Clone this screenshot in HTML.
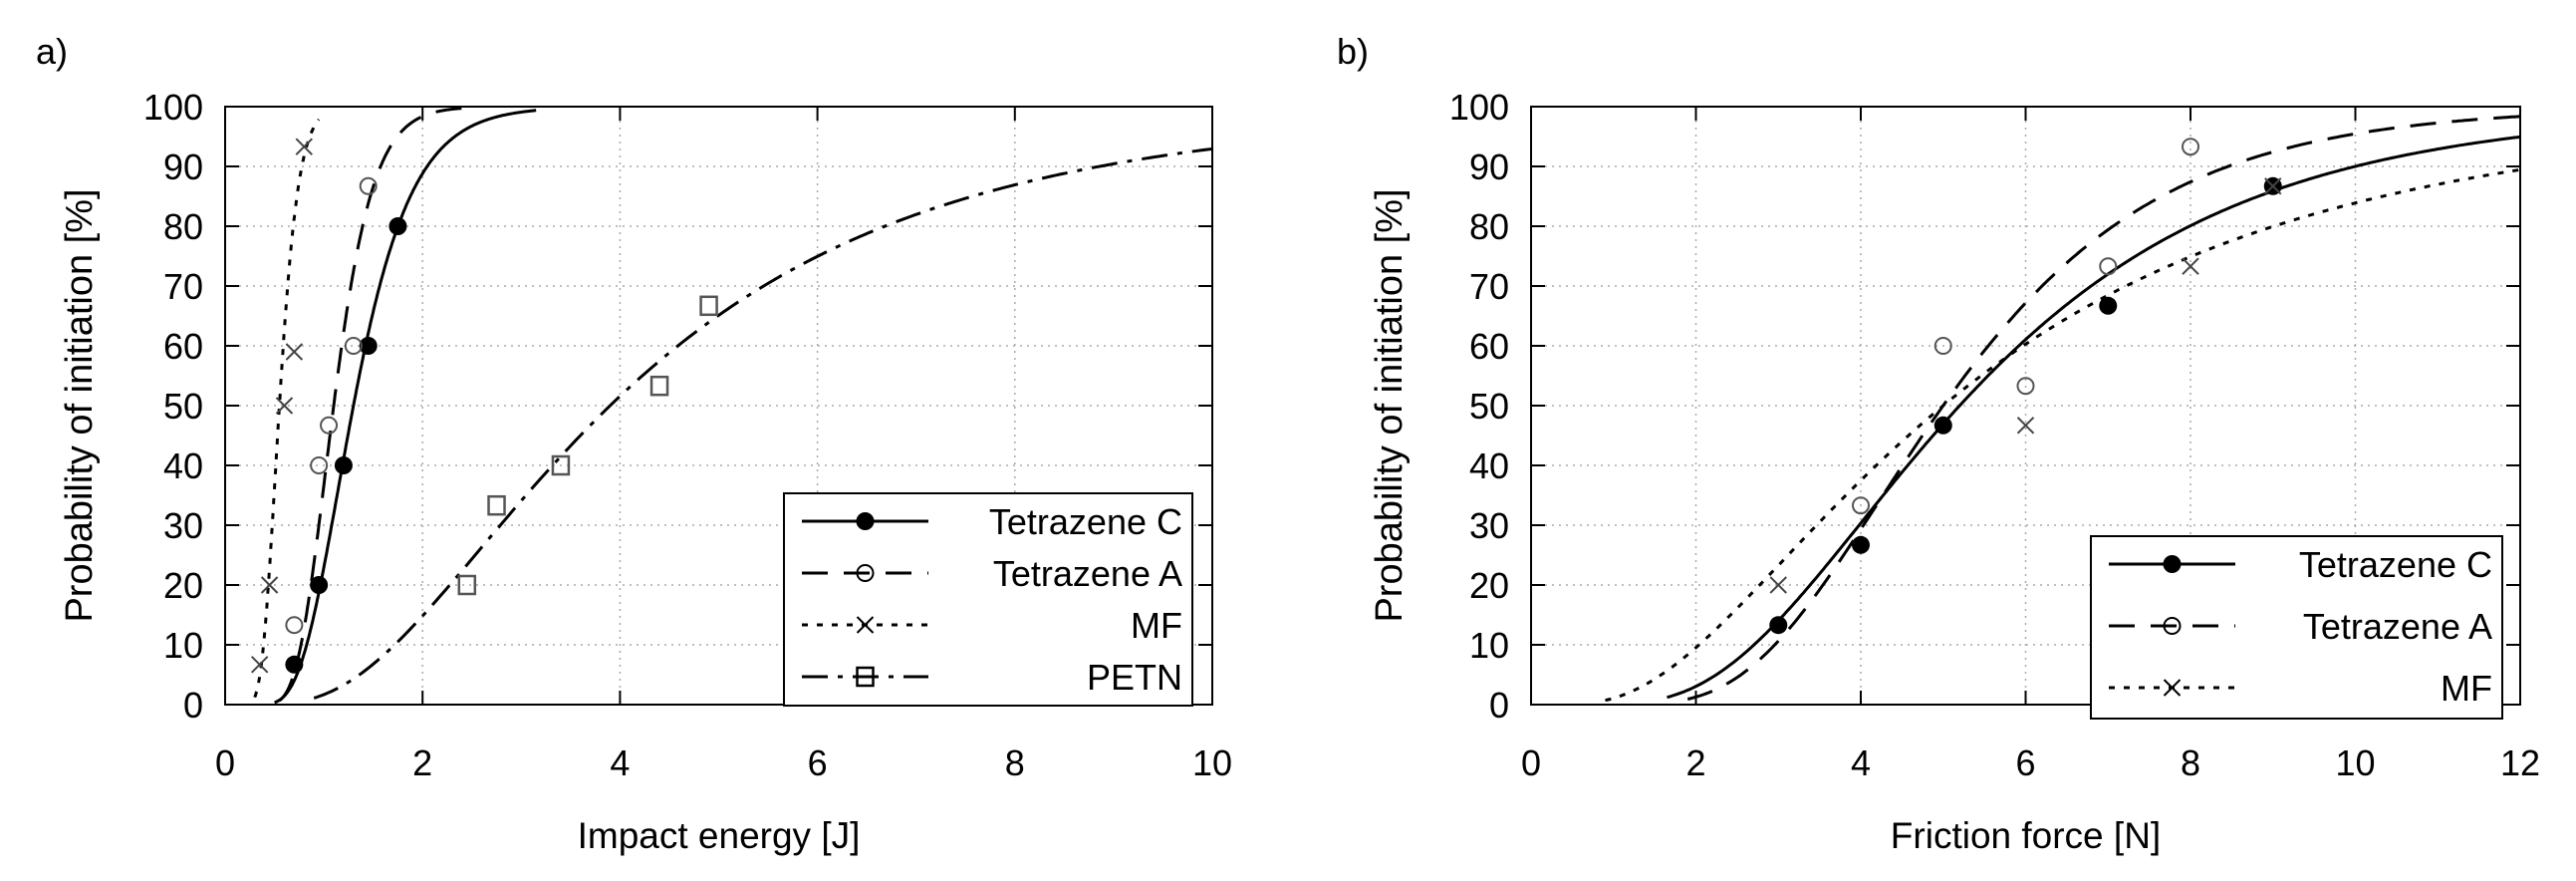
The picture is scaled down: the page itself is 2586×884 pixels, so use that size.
<!DOCTYPE html>
<html><head><meta charset="utf-8"><style>
html,body{margin:0;padding:0;background:#fff;}
svg{display:block;font-family:"Liberation Sans",sans-serif;}
</style></head><body>
<svg id="fig" width="2586" height="884" viewBox="0 0 2586 884" xmlns="http://www.w3.org/2000/svg"></svg>
<script>
// ---- Chart a) data ----
const aXTicks = [0, 2, 4, 6, 8, 10];
const yTicks = [0, 10, 20, 30, 40, 50, 60, 70, 80, 90, 100];
const aSeriesNames = ["Tetrazene C", "Tetrazene A", "MF", "PETN"];
const aTetCx = [0.7, 0.95, 1.2, 1.45, 1.75];
const aTetCy = [6.7, 20, 40, 60, 80];
const aTetAx = [0.7, 0.95, 1.05, 1.3, 1.45];
const aTetAy = [13.3, 40, 46.7, 60, 86.7];
const aMFx = [0.35, 0.45, 0.6, 0.7, 0.8];
const aMFy = [6.7, 20, 50, 59, 93.3];
const aPETNx = [2.45, 2.75, 3.4, 4.4, 4.9];
const aPETNy = [20, 33.3, 40, 53.3, 66.7];
// fitted lognormal curves: [median, sigma, xStart, xEnd]
const aFitC = [1.3, 0.354, 0.5, 3.15];
const aFitA = [1.1, 0.28, 0.55, 2.5];
const aFitMF = [0.55, 0.27, 0.3, 0.95];
const aFitPETN = [3.9, 0.64, 0.9, 10];
// ---- Chart b) data ----
const bXTicks = [0, 2, 4, 6, 8, 10, 12];
const bSeriesNames = ["Tetrazene C", "Tetrazene A", "MF"];
const bTetCx = [3, 4, 5, 7, 9];
const bTetCy = [13.3, 26.7, 46.7, 66.7, 86.7];
const bTetAx = [4, 5, 6, 7, 8];
const bTetAy = [33.3, 60, 53.3, 73.3, 93.3];
const bMFx = [3, 6, 8, 9];
const bMFy = [20, 46.7, 73.3, 86.7];
const bFitC = [5.2, 0.51, 1.65, 12];
const bFitA = [5.0, 0.41, 1.9, 12];
const bFitMF = [5.0, 0.7, 0.9, 12];

const NS = "http://www.w3.org/2000/svg";
const svg = document.getElementById("fig");
function mk(tag, attrs, parent){ const e=document.createElementNS(NS,tag); for(const k in attrs) e.setAttribute(k,attrs[k]); (parent||svg).appendChild(e); return e; }
function erf(x){ const s=x<0?-1:1; x=Math.abs(x); const t=1/(1+0.3275911*x);
  const y=1-(((((1.061405429*t-1.453152027)*t)+1.421413741)*t-0.284496736)*t+0.254829592)*t*Math.exp(-x*x); return s*y; }
function cdf(x,m,s){ return 0.5*(1+erf(Math.log(x/m)/(s*Math.SQRT2)))*100; }

const styles = {
  C:{dash:""},
  A:{dash:"26 16"},
  MF:{dash:"6 9"},
  PETN:{dash:"26 10 5 10"}
};
function marker(g, kind, cx, cy){
  let e;
  if(kind==="C"){ e=mk("circle",{cx,cy,r:9,fill:"#000"},g); }
  else if(kind==="A"){ e=mk("circle",{cx,cy,r:8,fill:"none",stroke:"#555","stroke-width":2},g); }
  else if(kind==="MF"){ e=mk("path",{d:`M${cx-8},${cy-8}L${cx+8},${cy+8}M${cx-8},${cy+8}L${cx+8},${cy-8}`,stroke:"#444","stroke-width":2,fill:"none"},g); }
  else { e=mk("rect",{x:cx-8,y:cy-9,width:16,height:18,fill:"none",stroke:"#555","stroke-width":2.5},g); }
  return e;
}

function chart(cfg){
  const {x0,x1,y0,y1,xmax,xTicks,series,label,labelX,xTitle,name,legend,yTitleX} = cfg;
  const g = mk("g",{});
  
  
  const X = v => x0 + (v/xmax)*(x1-x0);
  const Y = v => y1 - (v/100)*(y1-y0);
  const lab = mk("text",{x:labelX,y:64,"font-size":36},g); lab.textContent=label;
  
  
  const grid = mk("g",{stroke:"#aaa","stroke-width":1.5,"stroke-dasharray":"2 5"},g);
  
  
  yTicks.forEach(v=>{ if(v>0&&v<100) mk("line",{x1:x0+14,x2:x1-14,y1:Y(v),y2:Y(v)},grid); });
  xTicks.forEach(v=>{ if(v>0&&v<xmax) mk("line",{x1:X(v),x2:X(v),y1:y0+14,y2:y1-14},grid); });
  const tk = mk("g",{stroke:"#000","stroke-width":2},g);
  yTicks.forEach(v=>{ mk("line",{x1:x0,x2:x0+14,y1:Y(v),y2:Y(v)},tk); mk("line",{x1:x1-14,x2:x1,y1:Y(v),y2:Y(v)},tk);
    const t=mk("text",{x:x0-22,y:Y(v)+13,"font-size":36,"text-anchor":"end",fill:"#000"},g); t.textContent=v;
    
     });
  xTicks.forEach(v=>{ mk("line",{x1:X(v),x2:X(v),y1:y1,y2:y1-14},tk); mk("line",{x1:X(v),x2:X(v),y1:y0,y2:y0+14},tk);
    const t=mk("text",{x:X(v),y:y1+71,"font-size":36,"text-anchor":"middle",fill:"#000"},g); t.textContent=v;
    
     });
  const yt = mk("text",{x:0,y:0,"font-size":38,"text-anchor":"middle",transform:`translate(${yTitleX},${(y0+y1)/2}) rotate(-90)`},g);
  yt.textContent="Probability of initiation [%]";
  
  
  const xt = mk("text",{x:(x0+x1)/2,y:y1+144,"font-size":37,"text-anchor":"middle"},g);
  xt.textContent=xTitle;
  
  
  const clip = mk("clipPath",{id:"clip"+name},g);
  mk("rect",{x:x0,y:y0,width:x1-x0,height:y1-y0},clip);
  series.forEach(s=>{
    const sg = mk("g",{},g);
    
    
    const [m,sig,xa,xb]=s.fit; let d="";
    for(let i=0;i<=300;i++){ const xv=xa+(xb-xa)*i/300; d+=(i?"L":"M")+X(xv).toFixed(1)+","+Y(cdf(xv,m,sig)).toFixed(1); }
    const p = mk("path",{d,fill:"none",stroke:"#000","stroke-width":3,"stroke-dasharray":styles[s.key].dash,"clip-path":`url(#clip${name})`},sg);
    
    
    s.xs.forEach((xv,i)=>{ const mm=marker(sg,s.key,X(xv),Y(s.ys[i]));
      
       });
  });
  const fr = mk("rect",{x:x0,y:y0,width:x1-x0,height:y1-y0,fill:"none",stroke:"#000","stroke-width":2},g);
  
  
  const L = legend;
  const lg = mk("g",{},g);
  
  
  mk("rect",{x:L.x,y:L.y,width:L.w,height:L.h,fill:"#fff",stroke:"#000","stroke-width":2},lg);
  series.forEach((s,i)=>{
    const ey = L.y + L.pad + i*L.step;
    const eg = mk("g",{},lg);
    
    
    mk("line",{x1:L.x+18,x2:L.x+18+L.len,y1:ey,y2:ey,stroke:"#000","stroke-width":3,"stroke-dasharray":styles[s.key].dash},eg);
    const mm = marker(eg,s.key,L.x+18+L.len/2,ey);
    if(s.key!=="C"){ mm.setAttribute("stroke","#000"); }
    const t = mk("text",{x:L.x+L.w-10,y:ey+13,"font-size":36,"text-anchor":"end"},eg);
    t.textContent = s.name;
  });
}

chart({x0:226,x1:1217,y0:107,y1:707,xmax:10,xTicks:aXTicks,label:"a)",labelX:36,name:"chart-a",yTitleX:92,
  xTitle:"Impact energy [J]",
  series:[{key:"C",name:aSeriesNames[0],xs:aTetCx,ys:aTetCy,fit:aFitC},
          {key:"A",name:aSeriesNames[1],xs:aTetAx,ys:aTetAy,fit:aFitA},
          {key:"MF",name:aSeriesNames[2],xs:aMFx,ys:aMFy,fit:aFitMF},
          {key:"PETN",name:aSeriesNames[3],xs:aPETNx,ys:aPETNy,fit:aFitPETN}],
  legend:{x:787,y:495,w:410,h:213,pad:28,step:52,len:127}});
chart({x0:1537,x1:2530,y0:107,y1:707,xmax:12,xTicks:bXTicks,label:"b)",labelX:1342,name:"chart-b",yTitleX:1407,
  xTitle:"Friction force [N]",
  series:[{key:"C",name:bSeriesNames[0],xs:bTetCx,ys:bTetCy,fit:bFitC},
          {key:"A",name:bSeriesNames[1],xs:bTetAx,ys:bTetAy,fit:bFitA},
          {key:"MF",name:bSeriesNames[2],xs:bMFx,ys:bMFy,fit:bFitMF}],
  legend:{x:2099,y:538,w:413,h:183,pad:28,step:62,len:127}});
</script>
</body></html>
